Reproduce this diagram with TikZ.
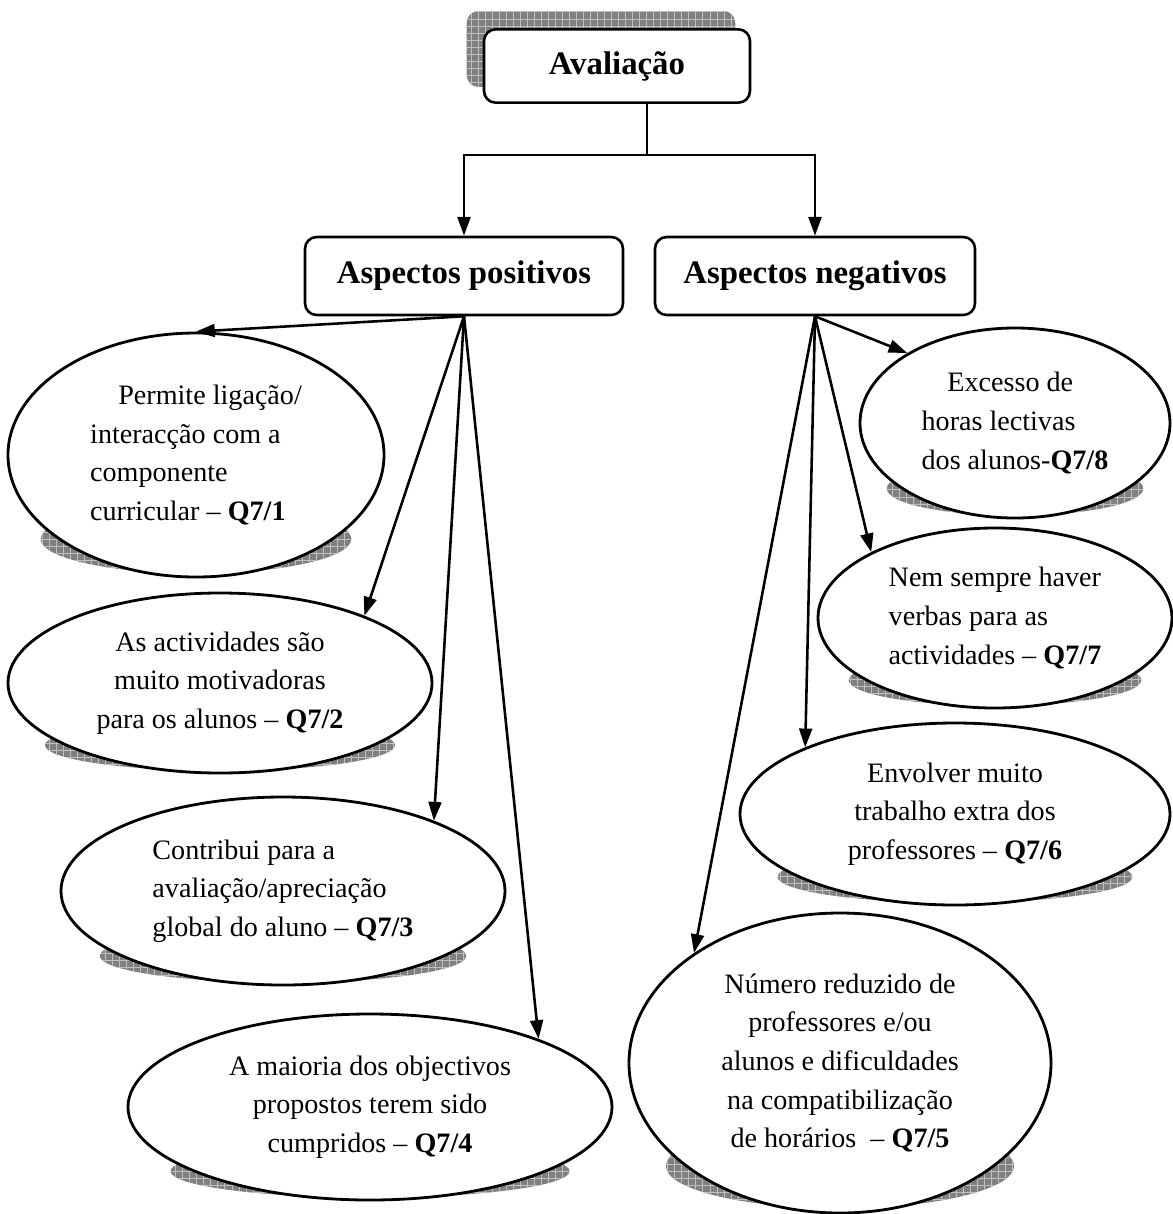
\documentclass[tikz,border=0pt]{standalone}
\usepackage{fontspec}
\setmainfont{Liberation Serif}
\usepackage{tikz}
\usetikzlibrary{arrows.meta, calc, patterns, shapes.geometric}
\pgfdeclarelayer{background}
\pgfsetlayers{background,main}

\begin{document}
\begin{tikzpicture}[x=0.015cm, y=-0.015cm,
    caixa/.style={draw, line width=1.1pt, rounded corners=5pt, fill=white, inner sep=0pt,
        font=\fontsize{14}{16}\selectfont\bfseries},
    balao/.style={draw, ellipse, line width=1.2pt, fill=white, inner sep=0pt,
        font=\fontsize{12}{16.5}\selectfont},
    sombra/.style={fill=black!50, postaction={pattern=grid, pattern color=black!25}},
    seta/.style={line width=1.1pt, -{Triangle[length=8pt, width=5.5pt]}}]

    \useasboundingbox (0,0) rectangle (1173,1214);

    % Avaliação
    \node[caixa, minimum width=3.99cm, minimum height=1.1cm] (aval) at (617,66) {Avaliação};
    \node[caixa, minimum width=4.77cm, minimum height=1.17cm] (pos) at (464,276) {Aspectos positivos};
    \node[caixa, minimum width=4.8cm, minimum height=1.17cm] (neg) at (815,276) {Aspectos negativos};

    \coordinate (ramo) at (647,155);
    \draw[line width=1.1pt] (aval.south -| ramo) -- (ramo);
    \draw[seta] (ramo) -| (pos.north);
    \draw[seta] (ramo) -| (neg.north);

    % aspectos positivos
    \node[balao, minimum width=5.64cm, minimum height=3.66cm, align=left] (q1) at (196,455)
        {\hspace*{12pt}Permite ligação/\\interacção com a\\componente\\curricular – \textbf{Q7/1}};
    \node[balao, minimum width=6.36cm, minimum height=2.7cm, align=center] (q2) at (220,683)
        {As actividades são\\muito motivadoras\\para os alunos – \textbf{Q7/2}};
    \node[balao, minimum width=6.66cm, minimum height=2.82cm, align=left] (q3) at (283,891)
        {Contribui para a\\avaliação/apreciação\\global do aluno – \textbf{Q7/3}};
    \node[balao, minimum width=7.26cm, minimum height=2.79cm, align=center] (q4) at (370,1107)
        {A maioria dos objectivos\\propostos terem sido\\cumpridos – \textbf{Q7/4}};

    % aspectos negativos
    \node[balao, minimum width=4.65cm, minimum height=2.85cm, align=left] (q8) at (1015,423)
        {\hspace*{11pt}Excesso de\\horas lectivas\\dos alunos-\textbf{Q7/8}};
    \node[balao, minimum width=5.31cm, minimum height=2.7cm, align=left] (q7) at (995,618)
        {Nem sempre haver\\verbas para as\\actividades – \textbf{Q7/7}};
    \node[balao, minimum width=6.45cm, minimum height=2.73cm, align=center] (q6) at (955,814)
        {Envolver muito\\trabalho extra dos\\professores – \textbf{Q7/6}};
    \node[balao, minimum width=6.33cm, minimum height=4.5cm, align=center] (q5) at (840,1063)
        {Número reduzido de\\professores e/ou\\alunos e dificuldades\\na compatibilização\\de horários \ – \textbf{Q7/5}};

    \draw[seta] (pos.south) -- (q1.north);
    \draw[seta] (pos.south) -- (q2.25);
    \draw[seta] (pos.south) -- (q3.25);
    \draw[seta] (pos.south) -- (q4.22);
    \draw[seta] (neg.south) -- (q8.147);
    \draw[seta] (neg.south) -- (q7.152);
    \draw[seta] (neg.south) -- (q6.156);
    \draw[seta] (neg.south) -- (q5.143);

    % sombras
    \begin{pgfonlayer}{background}
        \path[sombra, rounded corners=5pt] ($(aval.south west)+(-16,-17)$) rectangle ($(aval.north east)+(-16,-17)$);
        \foreach \b in {q1,q2,q3,q4,q5,q6,q7,q8} {
            \path[sombra] let \p1=($(\b.east)-(\b.center)$), \p2=($(\b.north)-(\b.center)$) in
                ($(\b.center)!0.68!(\b.south)$) ellipse [x radius=0.82*\x1, y radius=0.28*\y2];
        }
    \end{pgfonlayer}
\end{tikzpicture}
\end{document}
